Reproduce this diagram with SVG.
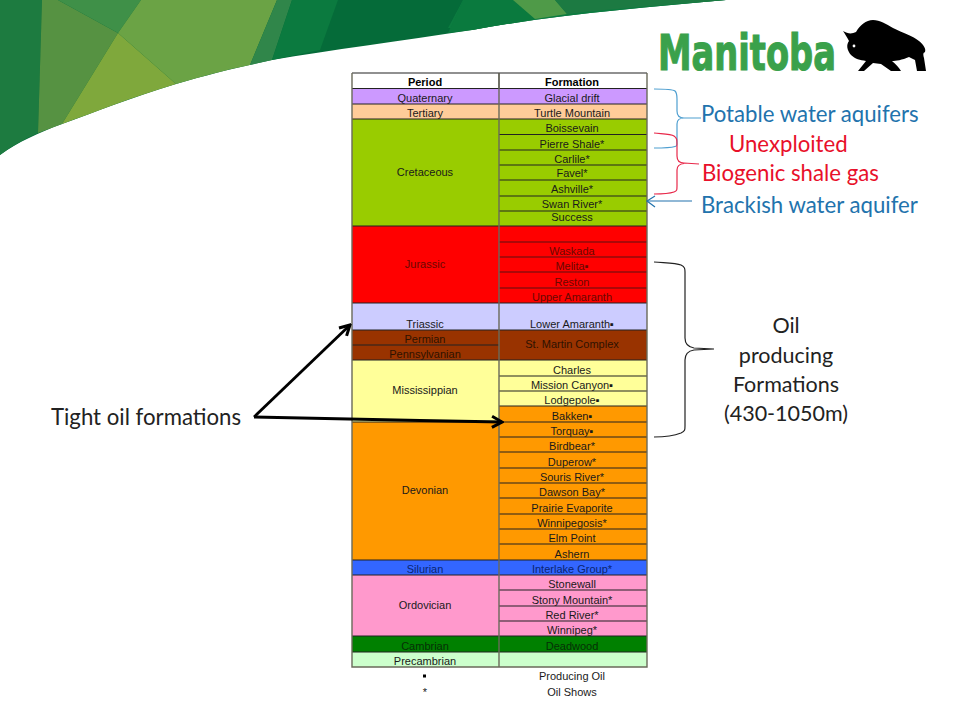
<svg xmlns="http://www.w3.org/2000/svg" width="960" height="720" viewBox="0 0 960 720">
<style>
text{font-family:"Liberation Sans",Arial,sans-serif;font-size:11px;text-anchor:middle;fill:#1a1a1a}
.h{font-weight:bold;fill:#000}
.dr{fill:#6a0800}
.br{fill:#2e1200}
.dg{fill:#063006}
.db{fill:#0a2470}
.c{fill:none;stroke:#222;stroke-width:1.1}
.o{fill:none;stroke:#6a6a5a;stroke-width:1.4}
.l{font-family:Lato,"Open Sans",sans-serif;font-size:22.2px;text-anchor:start}
.m{font-family:Lato,"Open Sans",sans-serif;font-size:21.5px;fill:#222}
.bl{fill:#2273ad}
.rd{fill:#e8102a}
.b{fill:none;stroke-width:1.2}
</style>
<defs>
<marker id="ah" viewBox="0 0 14 14" refX="12" refY="7" markerWidth="14" markerHeight="14" markerUnits="userSpaceOnUse" orient="auto"><path d="M2 1.5L12 7L2 12.5" fill="none" stroke="#000" stroke-width="3"/></marker>
</defs>
<g id="banner">
<path id="band" d="M0 0H726C640 8 560 14 472 30C400 41 330 50 272 60C240 67 210 74 176 84C130 98 95 112 62 124C40 132 18 142 0 155Z" fill="#056b39"/>
<path d="M0 0H42L38 133C24 139 12 146 0 155Z" fill="#1d7b40"/>
<path d="M42 0H58L118 33L62 124L38 133Z" fill="#569242"/>
<path d="M58 0H141L118 33Z" fill="#3f9048"/>
<path d="M141 0H277L250 65C225 70 200 77 176 84L118 33Z" fill="#6ba345"/>
<path d="M118 33L176 84C135 96 95 112 62 124Z" fill="#7fa83c"/>
<path d="M277 0H292L272 60L250 65Z" fill="#30864a"/>
<path d="M292 0H338L320 50L272 60Z" fill="#0b7a3f"/>
<path d="M463 0H726C640 8 560 14 472 30L448 28Z" fill="#0c7c40"/>
<path d="M463 0H513L535 19L472 30L448 33Z" fill="#0a7a3e"/>
<path d="M513 0H555L567 14L535 19Z" fill="#4f9a48"/>
<path d="M555 0H726C680 4 620 8 567 14Z" fill="#1c7a42"/>
</g>
<g id="logo">
<text x="658" y="70" textLength="178" lengthAdjust="spacingAndGlyphs" style="font-family:'DejaVu Sans',sans-serif;font-weight:bold;font-size:50px;text-anchor:start;fill:#3aa14b;stroke:#3aa14b;stroke-width:1.2">Manitoba</text>
<path id="bison" d="M843 31C848 34 852 34 856 32C860 25 866 20 873 20C880 20 886 24 893 28C903 33 913 36 919 41C924 45 926 49 925 52C923 53 923 54 924 58L926 71H917L915 60L909 57C902 60 896 61 892 61C896 64 899 68 901 71H891L881 64L873 63L864 71H858L866 61C860 60 855 59 851 55C847 50 846 45 849 41C847 37 845 34 843 31Z" fill="#000"/>
<circle cx="854" cy="46" r="1.4" fill="#fff"/>
</g>
<g id="table">
<g id="header"><rect x="352" y="73" width="147" height="15.500" fill="#fff"/><rect x="499" y="73" width="148" height="15.500" fill="#fff"/><path class="c" d="M352 73H647M499 73V88"/><text class="h" x="425" y="86">Period</text><text class="h" x="572" y="86">Formation</text></g>
<g id="quaternary"><rect x="352" y="88" width="295" height="16" fill="#cc99ff"/><text x="425" y="102">Quaternary</text><text x="572" y="102">Glacial drift</text></g>
<g id="tertiary"><rect x="352" y="104" width="295" height="15" fill="#ffcc99"/><text x="425" y="117">Tertiary</text><text x="572" y="117">Turtle Mountain</text></g>
<g id="cretaceous"><rect x="352" y="119" width="295" height="107" fill="#99cc00"/><text x="425" y="176">Cretaceous</text><text x="572" y="132">Boissevain</text><text x="572" y="148">Pierre Shale*</text><text x="572" y="163">Carlile*</text><text x="572" y="177">Favel*</text><text x="572" y="193">Ashville*</text><text x="572" y="208">Swan River*</text><text x="572" y="221">Success</text>
<path class="c" d="M499 134.500H647M499 150H647M499 165H647M499 180H647M499 196H647M499 211H647"/></g>
<g id="jurassic"><rect x="352" y="226" width="295" height="77" fill="#ff0000"/><text class="dr" x="425" y="268">Jurassic</text><text class="dr" x="572" y="255">Waskada</text><text class="dr" x="572" y="270">Melita▪</text><text class="dr" x="572" y="286">Reston</text><text class="dr" x="572" y="301">Upper Amaranth</text>
<path d="M499 242H647M499 257H647M499 272H647M499 288H647" fill="none" stroke="#5a1010" stroke-width="1.100"/></g>
<g id="triassic"><rect x="352" y="303" width="295" height="27" fill="#ccccff"/><text x="425" y="328">Triassic</text><text x="572" y="328">Lower Amaranth▪</text></g>
<g id="permian-pennsylvanian"><rect x="352" y="330" width="295" height="30" fill="#993300"/><text class="br" x="425" y="343">Permian</text><text class="br" x="425" y="358">Pennsylvanian</text><text class="br" x="572" y="348">St. Martin Complex</text><path class="c" d="M352 345H499"/></g>
<g id="mississippian"><rect x="352" y="360" width="147" height="62" fill="#ffff99"/><rect x="499" y="360" width="148" height="46" fill="#ffff99"/><text x="425" y="394">Mississippian</text><text x="572" y="374">Charles</text><text x="572" y="389">Mission Canyon▪</text><text x="572" y="404">Lodgepole▪</text><path class="c" d="M499 376H647M499 391H647"/></g>
<g id="devonian"><rect x="352" y="422" width="147" height="138" fill="#ff9900"/><rect x="499" y="406" width="148" height="154" fill="#ff9900"/><text x="425" y="494">Devonian</text><text x="572" y="420">Bakken▪</text><text x="572" y="435">Torquay▪</text><text x="572" y="450">Birdbear*</text><text x="572" y="466">Duperow*</text><text x="572" y="481">Souris River*</text><text x="572" y="496">Dawson Bay*</text><text x="572" y="512">Prairie Evaporite</text><text x="572" y="527">Winnipegosis*</text><text x="572" y="542">Elm Point</text><text x="572" y="558">Ashern</text>
<path class="c" d="M499 406H647M499 422H647M499 437H647M499 452H647M499 468H647M499 483H647M499 498H647M499 514H647M499 529H647M499 544H647"/></g>
<g id="silurian"><rect x="352" y="560" width="295" height="15" fill="#3366ff"/><text class="db" x="425" y="573">Silurian</text><text class="db" x="572" y="573">Interlake Group*</text></g>
<g id="ordovician"><rect x="352" y="575" width="295" height="61" fill="#ff99cc"/><text x="425" y="609">Ordovician</text><text x="572" y="588">Stonewall</text><text x="572" y="604">Stony Mountain*</text><text x="572" y="619">Red River*</text><text x="572" y="634">Winnipeg*</text><path class="c" d="M499 590H647M499 606H647M499 621H647"/></g>
<g id="cambrian"><rect x="352" y="636" width="295" height="16" fill="#008000"/><text class="dg" x="425" y="650">Cambrian</text><text class="dg" x="572" y="650">Deadwood</text></g>
<g id="precambrian"><rect x="352" y="652" width="295" height="15" fill="#ccffcc"/><text x="425" y="665">Precambrian</text></g>
<path class="c" d="M352 88.500H647M352 104H647M352 119H647M352 226H647M352 303H647M352 330H647M352 360H647M352 422H499M352 560H647M352 575H647M352 636H647M352 652H647"/>
<path class="o" d="M352 73V667H647V73M499 73V667"/>
<g id="legend"><rect x="423" y="674.500" width="3" height="3" fill="#000"/><text x="425" y="696">*</text><text x="572" y="680">Producing Oil</text><text x="572" y="696">Oil Shows</text></g>
</g>
<g id="connectors">
<path class="b" stroke="#4f9fd0" d="M654 89C664 89 672 89 675 91C677 93 677 95 677 99V111C677 115 679 118 684 118H701M684 118C679 118 677 120 677 124V141C677 145 677 146 675 146.500C670 148 662 148 654 148"/>
<path class="b" stroke="#e8284a" d="M654 133C664 134 671 134 674 136C677 138 677 140 677 144V156C677 160 679 163 684 163L699 164M684 163.500C679 164 677 166 677 170V186C677 190 677 191 674 192C668 194 662 194 654 194"/>
<path d="M692 201H648" class="b" stroke="#2273ad"/>
<path d="M655 196L647 201L655 207" class="b" stroke="#2273ad"/>
<path class="b" stroke="#222" d="M654 262C666 263 676 263 681 265C685 267 685 269 685 272V338C685 344 688 347 694 348L714 349L694 350C688 351 685 354 685 360V426C685 430 685 431 681 433C676 435 666 437 654 437"/>
<path d="M254 417L350 325" fill="none" stroke="#000" stroke-width="2.800" marker-end="url(#ah)"/>
<path d="M254 417L420 420.500L502 422" fill="none" stroke="#000" stroke-width="2.800" marker-end="url(#ah)"/>
</g>
<g id="labels">
<text class="l bl" x="701" y="122">Potable water aquifers</text>
<text class="l rd" x="729" y="152">Unexploited</text>
<text class="l rd" x="702" y="181">Biogenic shale gas</text>
<text class="l bl" x="701" y="213">Brackish water aquifer</text>
<text class="l" x="51" y="425" style="fill:#222">Tight oil formations</text>
<text class="m" x="786" y="333">Oil</text>
<text class="m" x="786" y="363">producing</text>
<text class="m" x="786" y="392">Formations</text>
<text class="m" x="786" y="421">(430-1050m)</text>
</g>
</svg>
